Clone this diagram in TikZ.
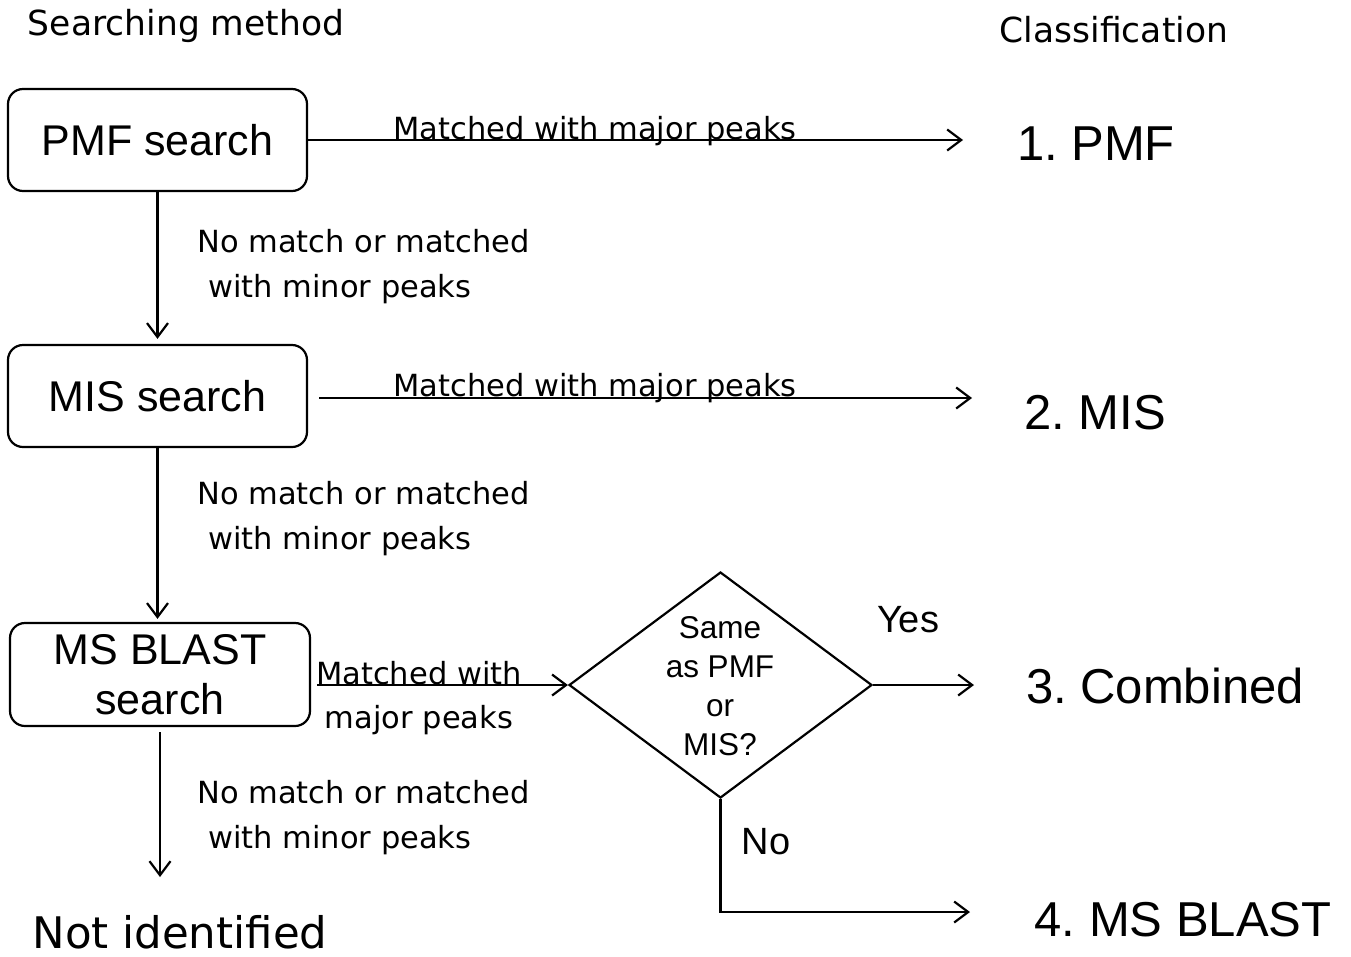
\documentclass[tikz,border=0pt]{standalone}
\usepackage{fontspec}
\setmainfont{Liberation Sans}
\newfontfamily\lblfont{DejaVu Sans}
\usetikzlibrary{arrows.meta,shapes.geometric}
\frenchspacing
\tikzset{
  proc/.style={draw,line width=2.2pt,rounded corners=15pt,minimum width=299pt,minimum height=102pt,inner sep=0pt,align=center,font=\fontsize{43}{50}\selectfont},
  arr/.style={line width=2.2pt,-{Straight Barb[length=14pt,width=21pt,line width=2.2pt]}},
  lbl/.style={inner sep=0pt,anchor=base west,align=left,font=\lblfont\fontsize{30.5}{45}\selectfont},
  ctr/.style={inner sep=0pt,anchor=base,align=center,font=\lblfont\fontsize{30.5}{44}\selectfont},
  cls/.style={inner sep=0pt,anchor=base,font=\fontsize{49}{55}\selectfont},
  head/.style={inner sep=0pt,anchor=base,font=\lblfont\fontsize{34.5}{40}\selectfont},
  yn/.style={inner sep=0pt,anchor=base,font=\fontsize{38}{44}\selectfont},
  dia/.style={draw,diamond,line width=2.2pt,minimum width=303pt,minimum height=226pt,inner sep=0pt}
}
\begin{document}
\begin{tikzpicture}[x=1pt,y=-1pt]
\useasboundingbox (0,0) rectangle (1351,956);
% headings
\node[head] (hsearch) at (186,35) {Searching method};
\node[head] (hclass) at (1114,42) {Classification};
% process boxes
\node[proc] (pmf) at (157.5,140) {PMF search};
\node[proc] (mis) at (157.5,396) {MIS search};
\node[proc,minimum width=300pt,minimum height=103pt] (blast) at (160,674.5) {MS BLAST\\search};
% decision
\node[dia] (dec) at (720.5,685) {};
\node[inner sep=0pt,anchor=base,align=center,font=\fontsize{31.5}{38.7}\selectfont] (dectext) at (720,755) {Same\\as PMF\\or\\MIS?};
% classification
\node[cls] (c1) at (1096,160) {1. PMF};
\node[cls] (c2) at (1095,429) {2. MIS};
\node[cls] (c3) at (1165,703) {3. Combined};
\node[cls] (c4) at (1183,936) {4. MS BLAST};
\node[inner sep=0pt,anchor=base,font=\lblfont\fontsize{43.5}{50}\selectfont] (notid) at (180,948) {Not identified};
% arrow end points
\coordinate (e1) at (963,140);
\coordinate (e2) at (972,398);
\coordinate (e3) at (974,685);
\coordinate (e4) at (970,912);
\coordinate (e5) at (160,877);
% connectors
\draw[arr] (pmf.east) -- (e1);
\draw[arr,shorten <=11pt] (mis.east |- e2) -- (e2);
\draw[arr,shorten >=5pt] (pmf.south) -- (mis.north);
\draw[arr,shorten >=3pt] (mis.south) -- (blast.north -| mis.south);
\draw[arr,shorten <=6pt] (blast.east |- dec.west) -- (dec.west);
\draw[arr] (dec.east) -- (e3);
\draw[arr] (dec.south) -- (dec.south |- e4) -- (e4);
\draw[arr,shorten <=5pt] (blast.south) -- (e5);
% labels
\node[ctr] (l1) at (595,139) {Matched with major peaks};
\node[ctr] (l2) at (595,396) {Matched with major peaks};
\node[ctr] (l3) at (419,728) {Matched with\\major peaks};
\node[lbl] (d1) at (197,297) {No match or matched\\\hspace{11pt}with minor peaks};
\node[lbl] (d2) at (197,549) {No match or matched\\\hspace{11pt}with minor peaks};
\node[lbl] (d3) at (197,848) {No match or matched\\\hspace{11pt}with minor peaks};
\node[yn] (yes) at (908,632) {Yes};
\node[yn] (no) at (766,854) {No};
\end{tikzpicture}
\end{document}
